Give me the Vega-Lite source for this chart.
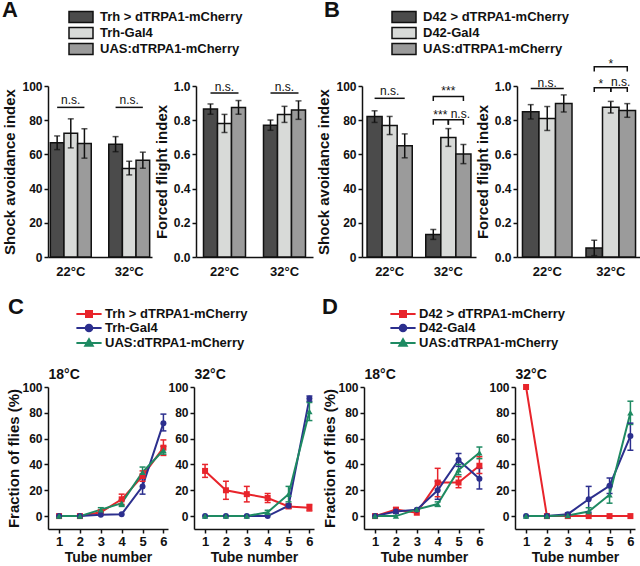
{
"$schema": "https://vega.github.io/schema/vega-lite/v6.json",
"padding": {"left": 2, "top": 10, "right": 0, "bottom": 0},
"background": "white",
"config": {
  "font": "Liberation Sans",
  "view": {"stroke": null},
  "axis": {"labelFont": "Liberation Sans", "titleFont": "Liberation Sans", "labelFontWeight": "bold", "titleFontWeight": "bold", "domainColor": "#111", "tickColor": "#111", "labelColor": "#111", "titleColor": "#111", "domainWidth": 1.5, "tickWidth": 1.5, "tickSize": 4, "labelPadding": 2, "grid": false},
  "legend": {"labelFont": "Liberation Sans", "titleFont": "Liberation Sans", "labelColor": "#111", "titleColor": "#111"},
  "title": {"font": "Liberation Sans", "color": "#111"}
},
"datasets": {
  "bars": [
    {"panel": "A1", "temp": "22°C", "geno": "Trh > dTRPA1-mCherry", "mean": 66.8, "lo": 62.8, "hi": 70.8},
    {"panel": "A1", "temp": "22°C", "geno": "Trh-Gal4", "mean": 72.3, "lo": 63.8, "hi": 80.8},
    {"panel": "A1", "temp": "22°C", "geno": "UAS:dTRPA1-mCherry", "mean": 66.4, "lo": 57.8, "hi": 75.0},
    {"panel": "A1", "temp": "32°C", "geno": "Trh > dTRPA1-mCherry", "mean": 66.0, "lo": 61.6, "hi": 70.4},
    {"panel": "A1", "temp": "32°C", "geno": "Trh-Gal4", "mean": 51.8, "lo": 48.0, "hi": 56.0},
    {"panel": "A1", "temp": "32°C", "geno": "UAS:dTRPA1-mCherry", "mean": 56.6, "lo": 51.9, "hi": 61.3},
    {"panel": "A2", "temp": "22°C", "geno": "Trh > dTRPA1-mCherry", "mean": 0.865, "lo": 0.835, "hi": 0.895},
    {"panel": "A2", "temp": "22°C", "geno": "Trh-Gal4", "mean": 0.781, "lo": 0.728, "hi": 0.834},
    {"panel": "A2", "temp": "22°C", "geno": "UAS:dTRPA1-mCherry", "mean": 0.875, "lo": 0.835, "hi": 0.915},
    {"panel": "A2", "temp": "32°C", "geno": "Trh > dTRPA1-mCherry", "mean": 0.771, "lo": 0.741, "hi": 0.801},
    {"panel": "A2", "temp": "32°C", "geno": "Trh-Gal4", "mean": 0.834, "lo": 0.787, "hi": 0.881},
    {"panel": "A2", "temp": "32°C", "geno": "UAS:dTRPA1-mCherry", "mean": 0.859, "lo": 0.805, "hi": 0.913},
    {"panel": "B1", "temp": "22°C", "geno": "D42 > dTRPA1-mCherry", "mean": 82.1, "lo": 78.7, "hi": 85.5},
    {"panel": "B1", "temp": "22°C", "geno": "D42-Gal4", "mean": 76.9, "lo": 71.6, "hi": 82.2},
    {"panel": "B1", "temp": "22°C", "geno": "UAS:dTRPA1-mCherry", "mean": 65.0, "lo": 58.0, "hi": 72.0},
    {"panel": "B1", "temp": "32°C", "geno": "D42 > dTRPA1-mCherry", "mean": 13.2, "lo": 10.3, "hi": 16.1},
    {"panel": "B1", "temp": "32°C", "geno": "D42-Gal4", "mean": 69.9, "lo": 64.7, "hi": 75.1},
    {"panel": "B1", "temp": "32°C", "geno": "UAS:dTRPA1-mCherry", "mean": 60.2, "lo": 54.6, "hi": 65.8},
    {"panel": "B2", "temp": "22°C", "geno": "D42 > dTRPA1-mCherry", "mean": 0.849, "lo": 0.807, "hi": 0.891},
    {"panel": "B2", "temp": "22°C", "geno": "D42-Gal4", "mean": 0.81, "lo": 0.74, "hi": 0.88},
    {"panel": "B2", "temp": "22°C", "geno": "UAS:dTRPA1-mCherry", "mean": 0.898, "lo": 0.848, "hi": 0.948},
    {"panel": "B2", "temp": "32°C", "geno": "D42 > dTRPA1-mCherry", "mean": 0.053, "lo": 0.008, "hi": 0.098},
    {"panel": "B2", "temp": "32°C", "geno": "D42-Gal4", "mean": 0.876, "lo": 0.842, "hi": 0.91},
    {"panel": "B2", "temp": "32°C", "geno": "UAS:dTRPA1-mCherry", "mean": 0.857, "lo": 0.817, "hi": 0.897}
  ],
  "sig": [
    {"panel": "A1", "id": "a1", "temp": "22°C", "geno": "Trh > dTRPA1-mCherry", "y": 87.5, "ord": 1},
    {"panel": "A1", "id": "a1", "temp": "22°C", "geno": "UAS:dTRPA1-mCherry", "y": 87.5, "ord": 2},
    {"panel": "A1", "id": "a2", "temp": "32°C", "geno": "Trh > dTRPA1-mCherry", "y": 87.5, "ord": 1},
    {"panel": "A1", "id": "a2", "temp": "32°C", "geno": "UAS:dTRPA1-mCherry", "y": 87.5, "ord": 2},
    {"panel": "A2", "id": "a3", "temp": "22°C", "geno": "Trh > dTRPA1-mCherry", "y": 0.959, "ord": 1},
    {"panel": "A2", "id": "a3", "temp": "22°C", "geno": "UAS:dTRPA1-mCherry", "y": 0.959, "ord": 2},
    {"panel": "A2", "id": "a4", "temp": "32°C", "geno": "Trh > dTRPA1-mCherry", "y": 0.959, "ord": 1},
    {"panel": "A2", "id": "a4", "temp": "32°C", "geno": "UAS:dTRPA1-mCherry", "y": 0.959, "ord": 2},
    {"panel": "B1", "id": "b1", "temp": "22°C", "geno": "D42 > dTRPA1-mCherry", "y": 92.8, "ord": 1},
    {"panel": "B1", "id": "b1", "temp": "22°C", "geno": "UAS:dTRPA1-mCherry", "y": 92.8, "ord": 2},
    {"panel": "B1", "id": "b2", "temp": "32°C", "geno": "D42 > dTRPA1-mCherry", "y": 91.3, "ord": 1},
    {"panel": "B1", "id": "b2", "temp": "32°C", "geno": "D42 > dTRPA1-mCherry", "y": 93.8, "ord": 2},
    {"panel": "B1", "id": "b2", "temp": "32°C", "geno": "UAS:dTRPA1-mCherry", "y": 93.8, "ord": 3},
    {"panel": "B1", "id": "b2", "temp": "32°C", "geno": "UAS:dTRPA1-mCherry", "y": 91.3, "ord": 4},
    {"panel": "B1", "id": "b3", "temp": "32°C", "geno": "D42 > dTRPA1-mCherry", "y": 77.3, "ord": 1},
    {"panel": "B1", "id": "b3", "temp": "32°C", "geno": "D42 > dTRPA1-mCherry", "y": 80.2, "ord": 2},
    {"panel": "B1", "id": "b3", "temp": "32°C", "geno": "D42-Gal4", "y": 80.2, "ord": 3},
    {"panel": "B1", "id": "b3", "temp": "32°C", "geno": "D42-Gal4", "y": 77.3, "ord": 4},
    {"panel": "B1", "id": "b4", "temp": "32°C", "geno": "D42-Gal4", "y": 77.3, "ord": 1},
    {"panel": "B1", "id": "b4", "temp": "32°C", "geno": "D42-Gal4", "y": 80.2, "ord": 2},
    {"panel": "B1", "id": "b4", "temp": "32°C", "geno": "UAS:dTRPA1-mCherry", "y": 80.2, "ord": 3},
    {"panel": "B1", "id": "b4", "temp": "32°C", "geno": "UAS:dTRPA1-mCherry", "y": 77.3, "ord": 4},
    {"panel": "B2", "id": "c1", "temp": "22°C", "geno": "D42 > dTRPA1-mCherry", "y": 0.985, "ord": 1},
    {"panel": "B2", "id": "c1", "temp": "22°C", "geno": "UAS:dTRPA1-mCherry", "y": 0.985, "ord": 2},
    {"panel": "B2", "id": "c2", "temp": "32°C", "geno": "D42 > dTRPA1-mCherry", "y": 1.085, "ord": 1},
    {"panel": "B2", "id": "c2", "temp": "32°C", "geno": "D42 > dTRPA1-mCherry", "y": 1.112, "ord": 2},
    {"panel": "B2", "id": "c2", "temp": "32°C", "geno": "UAS:dTRPA1-mCherry", "y": 1.112, "ord": 3},
    {"panel": "B2", "id": "c2", "temp": "32°C", "geno": "UAS:dTRPA1-mCherry", "y": 1.085, "ord": 4},
    {"panel": "B2", "id": "c3", "temp": "32°C", "geno": "D42 > dTRPA1-mCherry", "y": 0.965, "ord": 1},
    {"panel": "B2", "id": "c3", "temp": "32°C", "geno": "D42 > dTRPA1-mCherry", "y": 0.99, "ord": 2},
    {"panel": "B2", "id": "c3", "temp": "32°C", "geno": "D42-Gal4", "y": 0.99, "ord": 3},
    {"panel": "B2", "id": "c3", "temp": "32°C", "geno": "D42-Gal4", "y": 0.965, "ord": 4},
    {"panel": "B2", "id": "c4", "temp": "32°C", "geno": "D42-Gal4", "y": 0.965, "ord": 1},
    {"panel": "B2", "id": "c4", "temp": "32°C", "geno": "D42-Gal4", "y": 0.99, "ord": 2},
    {"panel": "B2", "id": "c4", "temp": "32°C", "geno": "UAS:dTRPA1-mCherry", "y": 0.99, "ord": 3},
    {"panel": "B2", "id": "c4", "temp": "32°C", "geno": "UAS:dTRPA1-mCherry", "y": 0.965, "ord": 4}
  ],
  "sigtext": [
    {"panel": "A1", "temp": "22°C", "geno": "Trh-Gal4", "y": 89.5, "label": "n.s.", "pos": "c"},
    {"panel": "A1", "temp": "32°C", "geno": "Trh-Gal4", "y": 89.5, "label": "n.s.", "pos": "c"},
    {"panel": "A2", "temp": "22°C", "geno": "Trh-Gal4", "y": 0.97, "label": "n.s.", "pos": "c"},
    {"panel": "A2", "temp": "32°C", "geno": "Trh-Gal4", "y": 0.97, "label": "n.s.", "pos": "c"},
    {"panel": "B1", "temp": "22°C", "geno": "D42-Gal4", "y": 94.5, "label": "n.s.", "pos": "c"},
    {"panel": "B1", "temp": "32°C", "geno": "D42-Gal4", "y": 94.5, "label": "***", "pos": "c"},
    {"panel": "B1", "temp": "32°C", "geno": "D42-Gal4", "y": 80.5, "label": "***", "pos": "l"},
    {"panel": "B1", "temp": "32°C", "geno": "D42-Gal4", "y": 81.4, "label": "n.s.", "pos": "r"},
    {"panel": "B2", "temp": "22°C", "geno": "D42-Gal4", "y": 0.995, "label": "n.s.", "pos": "c"},
    {"panel": "B2", "temp": "32°C", "geno": "D42-Gal4", "y": 1.108, "label": "*", "pos": "c"},
    {"panel": "B2", "temp": "32°C", "geno": "D42-Gal4", "y": 0.99, "label": "*", "pos": "l"},
    {"panel": "B2", "temp": "32°C", "geno": "D42-Gal4", "y": 0.998, "label": "n.s.", "pos": "r"}
  ],
  "lines": [
    {"panel": "C", "temp": "18°C", "geno": "Trh > dTRPA1-mCherry", "tube": 1, "mean": 0, "lo": null, "hi": null},
    {"panel": "C", "temp": "18°C", "geno": "Trh > dTRPA1-mCherry", "tube": 2, "mean": 0, "lo": null, "hi": null},
    {"panel": "C", "temp": "18°C", "geno": "Trh > dTRPA1-mCherry", "tube": 3, "mean": 3, "lo": null, "hi": null},
    {"panel": "C", "temp": "18°C", "geno": "Trh > dTRPA1-mCherry", "tube": 4, "mean": 13, "lo": 9, "hi": 17},
    {"panel": "C", "temp": "18°C", "geno": "Trh > dTRPA1-mCherry", "tube": 5, "mean": 31, "lo": 27, "hi": 35},
    {"panel": "C", "temp": "18°C", "geno": "Trh > dTRPA1-mCherry", "tube": 6, "mean": 53, "lo": 47, "hi": 59},
    {"panel": "C", "temp": "18°C", "geno": "Trh-Gal4", "tube": 1, "mean": 0, "lo": null, "hi": null},
    {"panel": "C", "temp": "18°C", "geno": "Trh-Gal4", "tube": 2, "mean": 0, "lo": null, "hi": null},
    {"panel": "C", "temp": "18°C", "geno": "Trh-Gal4", "tube": 3, "mean": 1, "lo": null, "hi": null},
    {"panel": "C", "temp": "18°C", "geno": "Trh-Gal4", "tube": 4, "mean": 1.5, "lo": null, "hi": null},
    {"panel": "C", "temp": "18°C", "geno": "Trh-Gal4", "tube": 5, "mean": 23, "lo": 17, "hi": 29},
    {"panel": "C", "temp": "18°C", "geno": "Trh-Gal4", "tube": 6, "mean": 72, "lo": 66, "hi": 79},
    {"panel": "C", "temp": "18°C", "geno": "UAS:dTRPA1-mCherry", "tube": 1, "mean": 0, "lo": null, "hi": null},
    {"panel": "C", "temp": "18°C", "geno": "UAS:dTRPA1-mCherry", "tube": 2, "mean": 0, "lo": null, "hi": null},
    {"panel": "C", "temp": "18°C", "geno": "UAS:dTRPA1-mCherry", "tube": 3, "mean": 5, "lo": 3.5, "hi": 6.5},
    {"panel": "C", "temp": "18°C", "geno": "UAS:dTRPA1-mCherry", "tube": 4, "mean": 10, "lo": 7.5, "hi": 12.5},
    {"panel": "C", "temp": "18°C", "geno": "UAS:dTRPA1-mCherry", "tube": 5, "mean": 34, "lo": 30, "hi": 38},
    {"panel": "C", "temp": "18°C", "geno": "UAS:dTRPA1-mCherry", "tube": 6, "mean": 51, "lo": 48, "hi": 54},
    {"panel": "C", "temp": "32°C", "geno": "Trh > dTRPA1-mCherry", "tube": 1, "mean": 35, "lo": 30, "hi": 40},
    {"panel": "C", "temp": "32°C", "geno": "Trh > dTRPA1-mCherry", "tube": 2, "mean": 20, "lo": 13, "hi": 27},
    {"panel": "C", "temp": "32°C", "geno": "Trh > dTRPA1-mCherry", "tube": 3, "mean": 17, "lo": 11, "hi": 23},
    {"panel": "C", "temp": "32°C", "geno": "Trh > dTRPA1-mCherry", "tube": 4, "mean": 14, "lo": 10.5, "hi": 17.5},
    {"panel": "C", "temp": "32°C", "geno": "Trh > dTRPA1-mCherry", "tube": 5, "mean": 7.5, "lo": 6, "hi": 9},
    {"panel": "C", "temp": "32°C", "geno": "Trh > dTRPA1-mCherry", "tube": 6, "mean": 6.5, "lo": 4, "hi": 9},
    {"panel": "C", "temp": "32°C", "geno": "Trh-Gal4", "tube": 1, "mean": 0, "lo": null, "hi": null},
    {"panel": "C", "temp": "32°C", "geno": "Trh-Gal4", "tube": 2, "mean": 0, "lo": null, "hi": null},
    {"panel": "C", "temp": "32°C", "geno": "Trh-Gal4", "tube": 3, "mean": 0, "lo": null, "hi": null},
    {"panel": "C", "temp": "32°C", "geno": "Trh-Gal4", "tube": 4, "mean": 0, "lo": null, "hi": null},
    {"panel": "C", "temp": "32°C", "geno": "Trh-Gal4", "tube": 5, "mean": 8, "lo": 6.5, "hi": 9.5},
    {"panel": "C", "temp": "32°C", "geno": "Trh-Gal4", "tube": 6, "mean": 91, "lo": 89, "hi": 93},
    {"panel": "C", "temp": "32°C", "geno": "UAS:dTRPA1-mCherry", "tube": 1, "mean": 0, "lo": null, "hi": null},
    {"panel": "C", "temp": "32°C", "geno": "UAS:dTRPA1-mCherry", "tube": 2, "mean": 0, "lo": null, "hi": null},
    {"panel": "C", "temp": "32°C", "geno": "UAS:dTRPA1-mCherry", "tube": 3, "mean": 0, "lo": null, "hi": null},
    {"panel": "C", "temp": "32°C", "geno": "UAS:dTRPA1-mCherry", "tube": 4, "mean": 3, "lo": 1.5, "hi": 4.5},
    {"panel": "C", "temp": "32°C", "geno": "UAS:dTRPA1-mCherry", "tube": 5, "mean": 17, "lo": 11, "hi": 23},
    {"panel": "C", "temp": "32°C", "geno": "UAS:dTRPA1-mCherry", "tube": 6, "mean": 81, "lo": 74, "hi": 88},
    {"panel": "D", "temp": "18°C", "geno": "D42 > dTRPA1-mCherry", "tube": 1, "mean": 0, "lo": null, "hi": null},
    {"panel": "D", "temp": "18°C", "geno": "D42 > dTRPA1-mCherry", "tube": 2, "mean": 5, "lo": 3.5, "hi": 6.5},
    {"panel": "D", "temp": "18°C", "geno": "D42 > dTRPA1-mCherry", "tube": 3, "mean": 2.6, "lo": null, "hi": null},
    {"panel": "D", "temp": "18°C", "geno": "D42 > dTRPA1-mCherry", "tube": 4, "mean": 26, "lo": 15, "hi": 37},
    {"panel": "D", "temp": "18°C", "geno": "D42 > dTRPA1-mCherry", "tube": 5, "mean": 26, "lo": 22, "hi": 30.5},
    {"panel": "D", "temp": "18°C", "geno": "D42 > dTRPA1-mCherry", "tube": 6, "mean": 39, "lo": 33, "hi": 46},
    {"panel": "D", "temp": "18°C", "geno": "D42-Gal4", "tube": 1, "mean": 0, "lo": null, "hi": null},
    {"panel": "D", "temp": "18°C", "geno": "D42-Gal4", "tube": 2, "mean": 3.5, "lo": 2, "hi": 5},
    {"panel": "D", "temp": "18°C", "geno": "D42-Gal4", "tube": 3, "mean": 5, "lo": null, "hi": null},
    {"panel": "D", "temp": "18°C", "geno": "D42-Gal4", "tube": 4, "mean": 20, "lo": 13, "hi": 27},
    {"panel": "D", "temp": "18°C", "geno": "D42-Gal4", "tube": 5, "mean": 43.5, "lo": 38.5, "hi": 48.5},
    {"panel": "D", "temp": "18°C", "geno": "D42-Gal4", "tube": 6, "mean": 29, "lo": 21, "hi": 37},
    {"panel": "D", "temp": "18°C", "geno": "UAS:dTRPA1-mCherry", "tube": 1, "mean": 0, "lo": null, "hi": null},
    {"panel": "D", "temp": "18°C", "geno": "UAS:dTRPA1-mCherry", "tube": 2, "mean": 0, "lo": null, "hi": null},
    {"panel": "D", "temp": "18°C", "geno": "UAS:dTRPA1-mCherry", "tube": 3, "mean": 5.2, "lo": null, "hi": null},
    {"panel": "D", "temp": "18°C", "geno": "UAS:dTRPA1-mCherry", "tube": 4, "mean": 9.3, "lo": 7.5, "hi": 11},
    {"panel": "D", "temp": "18°C", "geno": "UAS:dTRPA1-mCherry", "tube": 5, "mean": 35.8, "lo": 32, "hi": 40},
    {"panel": "D", "temp": "18°C", "geno": "UAS:dTRPA1-mCherry", "tube": 6, "mean": 49, "lo": 44.5, "hi": 53.5},
    {"panel": "D", "temp": "32°C", "geno": "D42 > dTRPA1-mCherry", "tube": 1, "mean": 100, "lo": null, "hi": null},
    {"panel": "D", "temp": "32°C", "geno": "D42 > dTRPA1-mCherry", "tube": 2, "mean": 0, "lo": null, "hi": null},
    {"panel": "D", "temp": "32°C", "geno": "D42 > dTRPA1-mCherry", "tube": 3, "mean": 0, "lo": null, "hi": null},
    {"panel": "D", "temp": "32°C", "geno": "D42 > dTRPA1-mCherry", "tube": 4, "mean": 0, "lo": null, "hi": null},
    {"panel": "D", "temp": "32°C", "geno": "D42 > dTRPA1-mCherry", "tube": 5, "mean": 0, "lo": null, "hi": null},
    {"panel": "D", "temp": "32°C", "geno": "D42 > dTRPA1-mCherry", "tube": 6, "mean": 0, "lo": null, "hi": null},
    {"panel": "D", "temp": "32°C", "geno": "D42-Gal4", "tube": 1, "mean": 0, "lo": null, "hi": null},
    {"panel": "D", "temp": "32°C", "geno": "D42-Gal4", "tube": 2, "mean": 0, "lo": null, "hi": null},
    {"panel": "D", "temp": "32°C", "geno": "D42-Gal4", "tube": 3, "mean": 1.5, "lo": 0.5, "hi": 2.5},
    {"panel": "D", "temp": "32°C", "geno": "D42-Gal4", "tube": 4, "mean": 13, "lo": 3, "hi": 23},
    {"panel": "D", "temp": "32°C", "geno": "D42-Gal4", "tube": 5, "mean": 23.5, "lo": 17.5, "hi": 29.5},
    {"panel": "D", "temp": "32°C", "geno": "D42-Gal4", "tube": 6, "mean": 62, "lo": 51, "hi": 72},
    {"panel": "D", "temp": "32°C", "geno": "UAS:dTRPA1-mCherry", "tube": 1, "mean": 0, "lo": null, "hi": null},
    {"panel": "D", "temp": "32°C", "geno": "UAS:dTRPA1-mCherry", "tube": 2, "mean": 0, "lo": null, "hi": null},
    {"panel": "D", "temp": "32°C", "geno": "UAS:dTRPA1-mCherry", "tube": 3, "mean": 0.5, "lo": null, "hi": null},
    {"panel": "D", "temp": "32°C", "geno": "UAS:dTRPA1-mCherry", "tube": 4, "mean": 3.5, "lo": 0.5, "hi": 6.5},
    {"panel": "D", "temp": "32°C", "geno": "UAS:dTRPA1-mCherry", "tube": 5, "mean": 16.5, "lo": 10, "hi": 23},
    {"panel": "D", "temp": "32°C", "geno": "UAS:dTRPA1-mCherry", "tube": 6, "mean": 80, "lo": 71, "hi": 89}
  ]
},
"spacing": 29,
"resolve": {"scale": {"color": "independent", "shape": "independent", "x": "independent", "y": "independent"}, "legend": {"color": "independent", "shape": "independent"}},
"vconcat": [
 {
  "spacing": 3,
  "resolve": {"scale": {"color": "independent", "x": "independent", "y": "independent"}, "legend": {"color": "independent"}},
  "hconcat": [
   {
    "spacing": 44, "bounds": "flush",
    "resolve": {"scale": {"color": "independent", "x": "independent", "y": "independent", "xOffset": "independent"}, "legend": {"color": "independent"}},
    "hconcat": [
     {
      "width": 104, "height": 171,
      "data": {"name": "bars"},
      "transform": [{"filter": "datum.panel === 'A1'"}],
      "resolve": {"axis": {"y": "independent"}},
      "encoding": {
        "x": {"field": "temp", "type": "nominal", "sort": ["22°C", "32°C"], "title": null, "scale": {"paddingInner": 0.3, "paddingOuter": 0.04}, "axis": {"labelAngle": 0, "ticks": false, "labelPadding": 8, "labelFontSize": 13}},
        "xOffset": {"field": "geno", "type": "nominal", "sort": ["Trh > dTRPA1-mCherry", "Trh-Gal4", "UAS:dTRPA1-mCherry"], "scale": {"paddingInner": 0, "paddingOuter": 0}}
      },
      "layer": [
        {"mark": {"type": "bar", "stroke": "#111", "strokeWidth": 1.5},
         "encoding": {
           "y": {"field": "mean", "type": "quantitative", "scale": {"domain": [0, 100], "nice": false}, "axis": {"values": [0, 20, 40, 60, 80, 100], "title": "Shock avoidance index", "titleFontSize": 15, "titlePadding": 4, "labelFontSize": 12}},
           "color": {"field": "geno", "type": "nominal", "scale": {"domain": ["Trh > dTRPA1-mCherry", "Trh-Gal4", "UAS:dTRPA1-mCherry"], "range": ["#4b4b4b", "#d8dad8", "#9b9b9b"]},
             "legend": {"orient": "none", "legendX": -46, "legendY": -76, "title": "A", "titleOrient": "left", "titleAnchor": "start", "titleBaseline": "middle", "titleFontSize": 22, "titleFontWeight": "bold", "titlePadding": 56, "symbolType": "M-2,-0.9H2V0.9H-2Z", "symbolSize": 144, "symbolStrokeColor": "#111", "symbolStrokeWidth": 1.5, "labelFontSize": 13, "labelFontWeight": "bold", "labelOffset": 12, "rowPadding": -2, "padding": 0}}
         }},
        {"mark": {"type": "rule", "color": "#111", "strokeWidth": 1.5}, "encoding": {"y": {"field": "lo", "type": "quantitative", "scale": {"domain": [0, 100], "nice": false}, "axis": null}, "y2": {"field": "hi"}}},
        {"mark": {"type": "tick", "orient": "horizontal", "color": "#111", "size": 6, "thickness": 1.5}, "encoding": {"y": {"field": "lo", "type": "quantitative", "scale": {"domain": [0, 100], "nice": false}, "axis": null}}},
        {"mark": {"type": "tick", "orient": "horizontal", "color": "#111", "size": 6, "thickness": 1.5}, "encoding": {"y": {"field": "hi", "type": "quantitative", "scale": {"domain": [0, 100], "nice": false}, "axis": null}}},
        {"data": {"name": "sig"}, "transform": [{"filter": "datum.panel === 'A1'"}], "mark": {"type": "line", "color": "#111", "strokeWidth": 1.5}, "encoding": {"y": {"field": "y", "type": "quantitative", "scale": {"domain": [0, 100], "nice": false}, "axis": null}, "detail": {"field": "id"}, "order": {"field": "ord"}}},
        {"data": {"name": "sigtext"}, "transform": [{"filter": "datum.panel === 'A1'"}], "mark": {"type": "text", "fontSize": 12, "baseline": "alphabetic", "color": "#111"}, "encoding": {"y": {"field": "y", "type": "quantitative", "scale": {"domain": [0, 100], "nice": false}, "axis": null}, "text": {"field": "label"}}}
      ]
     },
     {
      "width": 117, "height": 171,
      "data": {"name": "bars"},
      "transform": [{"filter": "datum.panel === 'A2'"}],
      "resolve": {"axis": {"y": "independent"}},
      "encoding": {
        "x": {"field": "temp", "type": "nominal", "sort": ["22°C", "32°C"], "title": null, "scale": {"paddingInner": 0.3, "paddingOuter": 0.125}, "axis": {"labelAngle": 0, "ticks": false, "labelPadding": 8, "labelFontSize": 13}},
        "xOffset": {"field": "geno", "type": "nominal", "sort": ["Trh > dTRPA1-mCherry", "Trh-Gal4", "UAS:dTRPA1-mCherry"], "scale": {"paddingInner": 0, "paddingOuter": 0}}
      },
      "layer": [
        {"mark": {"type": "bar", "stroke": "#111", "strokeWidth": 1.5},
         "encoding": {
           "y": {"field": "mean", "type": "quantitative", "scale": {"domain": [0, 1], "nice": false}, "axis": {"values": [0, 0.2, 0.4, 0.6, 0.8, 1.0], "format": ".1f", "title": "Forced flight index", "titleFontSize": 15, "titlePadding": 4, "labelFontSize": 12}},
           "color": {"field": "geno", "type": "nominal", "scale": {"domain": ["Trh > dTRPA1-mCherry", "Trh-Gal4", "UAS:dTRPA1-mCherry"], "range": ["#4b4b4b", "#d8dad8", "#9b9b9b"]}, "legend": null}
         }},
        {"mark": {"type": "rule", "color": "#111", "strokeWidth": 1.5}, "encoding": {"y": {"field": "lo", "type": "quantitative", "scale": {"domain": [0, 1], "nice": false}, "axis": null}, "y2": {"field": "hi"}}},
        {"mark": {"type": "tick", "orient": "horizontal", "color": "#111", "size": 6, "thickness": 1.5}, "encoding": {"y": {"field": "lo", "type": "quantitative", "scale": {"domain": [0, 1], "nice": false}, "axis": null}}},
        {"mark": {"type": "tick", "orient": "horizontal", "color": "#111", "size": 6, "thickness": 1.5}, "encoding": {"y": {"field": "hi", "type": "quantitative", "scale": {"domain": [0, 1], "nice": false}, "axis": null}}},
        {"data": {"name": "sig"}, "transform": [{"filter": "datum.panel === 'A2'"}], "mark": {"type": "line", "color": "#111", "strokeWidth": 1.5}, "encoding": {"y": {"field": "y", "type": "quantitative", "scale": {"domain": [0, 1], "nice": false}, "axis": null}, "detail": {"field": "id"}, "order": {"field": "ord"}}},
        {"data": {"name": "sigtext"}, "transform": [{"filter": "datum.panel === 'A2'"}], "mark": {"type": "text", "fontSize": 12, "baseline": "alphabetic", "color": "#111"}, "encoding": {"y": {"field": "y", "type": "quantitative", "scale": {"domain": [0, 1], "nice": false}, "axis": null}, "text": {"field": "label"}}}
      ]
     }
    ]
   },
   {
    "spacing": 41, "bounds": "flush",
    "resolve": {"scale": {"color": "independent", "x": "independent", "y": "independent", "xOffset": "independent"}, "legend": {"color": "independent"}},
    "hconcat": [
     {
      "width": 114, "height": 171,
      "data": {"name": "bars"},
      "transform": [{"filter": "datum.panel === 'B1'"}],
      "resolve": {"axis": {"y": "independent"}},
      "encoding": {
        "x": {"field": "temp", "type": "nominal", "sort": ["22°C", "32°C"], "title": null, "scale": {"paddingInner": 0.23, "paddingOuter": 0.086}, "axis": {"labelAngle": 0, "ticks": false, "labelPadding": 8, "labelFontSize": 13}},
        "xOffset": {"field": "geno", "type": "nominal", "sort": ["D42 > dTRPA1-mCherry", "D42-Gal4", "UAS:dTRPA1-mCherry"], "scale": {"paddingInner": 0, "paddingOuter": 0}}
      },
      "layer": [
        {"mark": {"type": "bar", "stroke": "#111", "strokeWidth": 1.5},
         "encoding": {
           "y": {"field": "mean", "type": "quantitative", "scale": {"domain": [0, 100], "nice": false}, "axis": {"values": [0, 20, 40, 60, 80, 100], "title": "Shock avoidance index", "titleFontSize": 15, "titlePadding": 4, "labelFontSize": 12}},
           "color": {"field": "geno", "type": "nominal", "scale": {"domain": ["D42 > dTRPA1-mCherry", "D42-Gal4", "UAS:dTRPA1-mCherry"], "range": ["#4b4b4b", "#d8dad8", "#9b9b9b"]},
             "legend": {"orient": "none", "legendX": -38, "legendY": -76, "title": "B", "titleOrient": "left", "titleAnchor": "start", "titleBaseline": "middle", "titleFontSize": 22, "titleFontWeight": "bold", "titlePadding": 57, "symbolType": "M-2,-0.9H2V0.9H-2Z", "symbolSize": 144, "symbolStrokeColor": "#111", "symbolStrokeWidth": 1.5, "labelFontSize": 13, "labelFontWeight": "bold", "labelOffset": 12, "rowPadding": -2, "padding": 0}}
         }},
        {"mark": {"type": "rule", "color": "#111", "strokeWidth": 1.5}, "encoding": {"y": {"field": "lo", "type": "quantitative", "scale": {"domain": [0, 100], "nice": false}, "axis": null}, "y2": {"field": "hi"}}},
        {"mark": {"type": "tick", "orient": "horizontal", "color": "#111", "size": 6, "thickness": 1.5}, "encoding": {"y": {"field": "lo", "type": "quantitative", "scale": {"domain": [0, 100], "nice": false}, "axis": null}}},
        {"mark": {"type": "tick", "orient": "horizontal", "color": "#111", "size": 6, "thickness": 1.5}, "encoding": {"y": {"field": "hi", "type": "quantitative", "scale": {"domain": [0, 100], "nice": false}, "axis": null}}},
        {"data": {"name": "sig"}, "transform": [{"filter": "datum.panel === 'B1'"}], "mark": {"type": "line", "color": "#111", "strokeWidth": 1.5}, "encoding": {"y": {"field": "y", "type": "quantitative", "scale": {"domain": [0, 100], "nice": false}, "axis": null}, "detail": {"field": "id"}, "order": {"field": "ord"}}},
        {"data": {"name": "sigtext"}, "transform": [{"filter": "datum.panel === 'B1' && datum.pos === 'c'"}], "mark": {"type": "text", "fontSize": 12, "baseline": "alphabetic", "color": "#111"}, "encoding": {"y": {"field": "y", "type": "quantitative", "scale": {"domain": [0, 100], "nice": false}, "axis": null}, "text": {"field": "label"}}},
        {"data": {"name": "sigtext"}, "transform": [{"filter": "datum.panel === 'B1' && datum.pos === 'l'"}], "mark": {"type": "text", "fontSize": 12, "baseline": "alphabetic", "color": "#111", "dx": -8}, "encoding": {"y": {"field": "y", "type": "quantitative", "scale": {"domain": [0, 100], "nice": false}, "axis": null}, "text": {"field": "label"}}},
        {"data": {"name": "sigtext"}, "transform": [{"filter": "datum.panel === 'B1' && datum.pos === 'r'"}], "mark": {"type": "text", "fontSize": 12, "baseline": "alphabetic", "color": "#111", "dx": 12}, "encoding": {"y": {"field": "y", "type": "quantitative", "scale": {"domain": [0, 100], "nice": false}, "axis": null}, "text": {"field": "label"}}}
      ]
     },
     {
      "width": 124, "height": 171,
      "data": {"name": "bars"},
      "transform": [{"filter": "datum.panel === 'B2'"}],
      "resolve": {"axis": {"y": "independent"}},
      "encoding": {
        "x": {"field": "temp", "type": "nominal", "sort": ["22°C", "32°C"], "title": null, "scale": {"paddingInner": 0.22, "paddingOuter": 0.086}, "axis": {"labelAngle": 0, "ticks": false, "labelPadding": 8, "labelFontSize": 13}},
        "xOffset": {"field": "geno", "type": "nominal", "sort": ["D42 > dTRPA1-mCherry", "D42-Gal4", "UAS:dTRPA1-mCherry"], "scale": {"paddingInner": 0, "paddingOuter": 0}}
      },
      "layer": [
        {"mark": {"type": "bar", "stroke": "#111", "strokeWidth": 1.5},
         "encoding": {
           "y": {"field": "mean", "type": "quantitative", "scale": {"domain": [0, 1], "nice": false}, "axis": {"values": [0, 0.2, 0.4, 0.6, 0.8, 1.0], "format": ".1f", "title": "Forced flight index", "titleFontSize": 15, "titlePadding": 4, "labelFontSize": 12}},
           "color": {"field": "geno", "type": "nominal", "scale": {"domain": ["D42 > dTRPA1-mCherry", "D42-Gal4", "UAS:dTRPA1-mCherry"], "range": ["#4b4b4b", "#d8dad8", "#9b9b9b"]}, "legend": null}
         }},
        {"mark": {"type": "rule", "color": "#111", "strokeWidth": 1.5}, "encoding": {"y": {"field": "lo", "type": "quantitative", "scale": {"domain": [0, 1], "nice": false}, "axis": null}, "y2": {"field": "hi"}}},
        {"mark": {"type": "tick", "orient": "horizontal", "color": "#111", "size": 6, "thickness": 1.5}, "encoding": {"y": {"field": "lo", "type": "quantitative", "scale": {"domain": [0, 1], "nice": false}, "axis": null}}},
        {"mark": {"type": "tick", "orient": "horizontal", "color": "#111", "size": 6, "thickness": 1.5}, "encoding": {"y": {"field": "hi", "type": "quantitative", "scale": {"domain": [0, 1], "nice": false}, "axis": null}}},
        {"data": {"name": "sig"}, "transform": [{"filter": "datum.panel === 'B2'"}], "mark": {"type": "line", "color": "#111", "strokeWidth": 1.5}, "encoding": {"y": {"field": "y", "type": "quantitative", "scale": {"domain": [0, 1], "nice": false}, "axis": null}, "detail": {"field": "id"}, "order": {"field": "ord"}}},
        {"data": {"name": "sigtext"}, "transform": [{"filter": "datum.panel === 'B2' && datum.pos === 'c'"}], "mark": {"type": "text", "fontSize": 12, "baseline": "alphabetic", "color": "#111"}, "encoding": {"y": {"field": "y", "type": "quantitative", "scale": {"domain": [0, 1], "nice": false}, "axis": null}, "text": {"field": "label"}}},
        {"data": {"name": "sigtext"}, "transform": [{"filter": "datum.panel === 'B2' && datum.pos === 'l'"}], "mark": {"type": "text", "fontSize": 12, "baseline": "alphabetic", "color": "#111", "dx": -10}, "encoding": {"y": {"field": "y", "type": "quantitative", "scale": {"domain": [0, 1], "nice": false}, "axis": null}, "text": {"field": "label"}}},
        {"data": {"name": "sigtext"}, "transform": [{"filter": "datum.panel === 'B2' && datum.pos === 'r'"}], "mark": {"type": "text", "fontSize": 12, "baseline": "alphabetic", "color": "#111", "dx": 10}, "encoding": {"y": {"field": "y", "type": "quantitative", "scale": {"domain": [0, 1], "nice": false}, "axis": null}, "text": {"field": "label"}}}
      ]
     }
    ]
   }
  ]
 },
 {
  "spacing": 8,
  "resolve": {"scale": {"color": "independent", "shape": "independent", "x": "independent", "y": "independent"}, "legend": {"color": "independent", "shape": "independent"}},
  "hconcat": [
   {
    "spacing": 26, "bounds": "flush",
    "resolve": {"scale": {"color": "independent", "shape": "independent", "x": "independent", "y": "independent"}, "legend": {"color": "independent", "shape": "independent"}},
    "hconcat": [
     {
      "width": 120, "height": 142,
      "data": {"name": "lines"},
      "transform": [{"filter": "datum.panel === 'C' && datum.temp === '18°C'"}],
      "resolve": {"axis": {"x": "independent", "y": "independent"}},
      "encoding": {
        "x": {"field": "tube", "type": "quantitative", "scale": {"domain": [0.47, 6.22], "nice": false, "zero": false}, "axis": null}
      },
      "layer": [
        {"mark": {"type": "line", "strokeWidth": 2}, "encoding": {
          "x": {"field": "tube", "type": "quantitative", "scale": {"domain": [0.47, 6.22], "nice": false, "zero": false}, "axis": {"values": [1, 2, 3, 4, 5, 6], "title": "Tube number", "titleFontSize": 14, "titlePadding": 2, "labelFontSize": 13}},
          "y": {"field": "mean", "type": "quantitative", "scale": {"domain": [-10, 100], "nice": false, "zero": false}, "axis": {"values": [0, 20, 40, 60, 80, 100], "title": "Fraction of flies (%)", "titleFontSize": 15, "titlePadding": 0, "labelFontSize": 12}},
          "color": {"field": "geno", "type": "nominal", "scale": {"domain": ["Trh > dTRPA1-mCherry", "Trh-Gal4", "UAS:dTRPA1-mCherry"], "range": ["#e8242b", "#2c2f8e", "#1e8a62"]}}}},
        {"mark": {"type": "rule", "strokeWidth": 1.5}, "encoding": {"y": {"field": "lo", "type": "quantitative", "scale": {"domain": [-10, 100], "nice": false, "zero": false}, "axis": null}, "y2": {"field": "hi"}, "color": {"field": "geno", "type": "nominal"}}},
        {"mark": {"type": "tick", "orient": "horizontal", "size": 6, "thickness": 1.5, "opacity": 1}, "encoding": {"y": {"field": "lo", "type": "quantitative", "scale": {"domain": [-10, 100], "nice": false, "zero": false}, "axis": null}, "color": {"field": "geno", "type": "nominal"}}},
        {"mark": {"type": "tick", "orient": "horizontal", "size": 6, "thickness": 1.5, "opacity": 1}, "encoding": {"y": {"field": "hi", "type": "quantitative", "scale": {"domain": [-10, 100], "nice": false, "zero": false}, "axis": null}, "color": {"field": "geno", "type": "nominal"}}},
        {"transform": [{"filter": "indexof(datum.geno, '>') >= 0"}], "mark": {"type": "point", "shape": "square", "filled": true, "size": 36, "opacity": 1}, "encoding": {
          "x": {"field": "tube", "type": "quantitative", "scale": {"domain": [0.47, 6.22], "nice": false, "zero": false}, "axis": {"orient": "top", "title": "18°C", "titleAnchor": "start", "titleAlign": "left", "titleFontSize": 14, "titlePadding": 6, "domain": false, "ticks": false, "labels": false}},
          "y": {"field": "mean", "type": "quantitative", "scale": {"domain": [-10, 100], "nice": false, "zero": false}, "axis": null},
          "color": {"field": "geno", "type": "nominal"}}},
        {"transform": [{"filter": "indexof(datum.geno, 'Gal4') >= 0"}], "mark": {"type": "point", "shape": "circle", "filled": true, "size": 36, "opacity": 1}, "encoding": {
          "y": {"field": "mean", "type": "quantitative", "scale": {"domain": [-10, 100], "nice": false, "zero": false}, "axis": null},
          "color": {"field": "geno", "type": "nominal"}}},
        {"transform": [{"filter": "indexof(datum.geno, 'UAS') >= 0"}], "mark": {"type": "point", "shape": "triangle-up", "filled": true, "size": 40, "opacity": 1}, "encoding": {
          "y": {"field": "mean", "type": "quantitative", "scale": {"domain": [-10, 100], "nice": false, "zero": false}, "axis": null},
          "color": {"field": "geno", "type": "nominal"}}},
        {"mark": {"type": "point", "filled": true, "size": 144, "strokeWidth": 2, "opacity": 0}, "encoding": {
          "y": {"field": "mean", "type": "quantitative", "scale": {"domain": [-10, 100], "nice": false, "zero": false}, "axis": null},
          "color": {"field": "geno", "type": "nominal",
            "legend": {"orient": "none", "legendX": -40, "legendY": -80, "title": ["C", " "], "titleOrient": "left", "titleAnchor": "start", "titleBaseline": "middle", "titleLineHeight": 20, "titleFontSize": 22, "titleFontWeight": "bold", "titlePadding": 58, "symbolSize": 144, "symbolStrokeWidth": 2, "symbolOpacity": 1, "labelFontSize": 13, "labelFontWeight": "bold", "labelOffset": 9, "rowPadding": -2, "padding": 0}},
          "shape": {"field": "geno", "type": "nominal", "scale": {"domain": ["Trh > dTRPA1-mCherry", "Trh-Gal4", "UAS:dTRPA1-mCherry"], "range": ["M-2.1,0H2.1M-0.5,-0.5H0.5V0.5H-0.5Z", "M-2.1,0H2.1M0.55,0A0.55,0.55,0,1,1,-0.55,0A0.55,0.55,0,1,1,0.55,0Z", "M-2.1,0H2.1M0,-0.62L0.62,0.45H-0.62Z"]}}}}
      ]
     },
     {
      "width": 120, "height": 142,
      "data": {"name": "lines"},
      "transform": [{"filter": "datum.panel === 'C' && datum.temp === '32°C'"}],
      "resolve": {"axis": {"x": "independent", "y": "independent"}},
      "encoding": {
        "x": {"field": "tube", "type": "quantitative", "scale": {"domain": [0.47, 6.22], "nice": false, "zero": false}, "axis": null}
      },
      "layer": [
        {"mark": {"type": "line", "strokeWidth": 2}, "encoding": {
          "x": {"field": "tube", "type": "quantitative", "scale": {"domain": [0.47, 6.22], "nice": false, "zero": false}, "axis": {"values": [1, 2, 3, 4, 5, 6], "title": "Tube number", "titleFontSize": 14, "titlePadding": 2, "labelFontSize": 13}},
          "y": {"field": "mean", "type": "quantitative", "scale": {"domain": [-10, 100], "nice": false, "zero": false}, "axis": {"values": [0, 20, 40, 60, 80, 100], "title": null, "labelFontSize": 12}},
          "color": {"field": "geno", "type": "nominal", "scale": {"domain": ["Trh > dTRPA1-mCherry", "Trh-Gal4", "UAS:dTRPA1-mCherry"], "range": ["#e8242b", "#2c2f8e", "#1e8a62"]}, "legend": null}}},
        {"mark": {"type": "rule", "strokeWidth": 1.5}, "encoding": {"y": {"field": "lo", "type": "quantitative", "scale": {"domain": [-10, 100], "nice": false, "zero": false}, "axis": null}, "y2": {"field": "hi"}, "color": {"field": "geno", "type": "nominal", "legend": null}}},
        {"mark": {"type": "tick", "orient": "horizontal", "size": 6, "thickness": 1.5, "opacity": 1}, "encoding": {"y": {"field": "lo", "type": "quantitative", "scale": {"domain": [-10, 100], "nice": false, "zero": false}, "axis": null}, "color": {"field": "geno", "type": "nominal", "legend": null}}},
        {"mark": {"type": "tick", "orient": "horizontal", "size": 6, "thickness": 1.5, "opacity": 1}, "encoding": {"y": {"field": "hi", "type": "quantitative", "scale": {"domain": [-10, 100], "nice": false, "zero": false}, "axis": null}, "color": {"field": "geno", "type": "nominal", "legend": null}}},
        {"transform": [{"filter": "indexof(datum.geno, '>') >= 0"}], "mark": {"type": "point", "shape": "square", "filled": true, "size": 36, "opacity": 1}, "encoding": {
          "x": {"field": "tube", "type": "quantitative", "scale": {"domain": [0.47, 6.22], "nice": false, "zero": false}, "axis": {"orient": "top", "title": "32°C", "titleAnchor": "start", "titleAlign": "left", "titleFontSize": 14, "titlePadding": 6, "domain": false, "ticks": false, "labels": false}},
          "y": {"field": "mean", "type": "quantitative", "scale": {"domain": [-10, 100], "nice": false, "zero": false}, "axis": null},
          "color": {"field": "geno", "type": "nominal", "legend": null}}},
        {"transform": [{"filter": "indexof(datum.geno, 'Gal4') >= 0"}], "mark": {"type": "point", "shape": "circle", "filled": true, "size": 36, "opacity": 1}, "encoding": {
          "y": {"field": "mean", "type": "quantitative", "scale": {"domain": [-10, 100], "nice": false, "zero": false}, "axis": null},
          "color": {"field": "geno", "type": "nominal", "legend": null}}},
        {"transform": [{"filter": "indexof(datum.geno, 'UAS') >= 0"}], "mark": {"type": "point", "shape": "triangle-up", "filled": true, "size": 40, "opacity": 1}, "encoding": {
          "y": {"field": "mean", "type": "quantitative", "scale": {"domain": [-10, 100], "nice": false, "zero": false}, "axis": null},
          "color": {"field": "geno", "type": "nominal", "legend": null}}}
      ]
     }
    ]
   },
   {
    "spacing": 31, "bounds": "flush",
    "resolve": {"scale": {"color": "independent", "shape": "independent", "x": "independent", "y": "independent"}, "legend": {"color": "independent", "shape": "independent"}},
    "hconcat": [
     {
      "width": 120, "height": 142,
      "data": {"name": "lines"},
      "transform": [{"filter": "datum.panel === 'D' && datum.temp === '18°C'"}],
      "resolve": {"axis": {"x": "independent", "y": "independent"}},
      "encoding": {
        "x": {"field": "tube", "type": "quantitative", "scale": {"domain": [0.47, 6.22], "nice": false, "zero": false}, "axis": null}
      },
      "layer": [
        {"mark": {"type": "line", "strokeWidth": 2}, "encoding": {
          "x": {"field": "tube", "type": "quantitative", "scale": {"domain": [0.47, 6.22], "nice": false, "zero": false}, "axis": {"values": [1, 2, 3, 4, 5, 6], "title": "Tube number", "titleFontSize": 14, "titlePadding": 2, "labelFontSize": 13}},
          "y": {"field": "mean", "type": "quantitative", "scale": {"domain": [-10, 100], "nice": false, "zero": false}, "axis": {"values": [0, 20, 40, 60, 80, 100], "title": "Fraction of flies (%)", "titleFontSize": 15, "titlePadding": 0, "labelFontSize": 12}},
          "color": {"field": "geno", "type": "nominal", "scale": {"domain": ["D42 > dTRPA1-mCherry", "D42-Gal4", "UAS:dTRPA1-mCherry"], "range": ["#e8242b", "#2c2f8e", "#1e8a62"]}}}},
        {"mark": {"type": "rule", "strokeWidth": 1.5}, "encoding": {"y": {"field": "lo", "type": "quantitative", "scale": {"domain": [-10, 100], "nice": false, "zero": false}, "axis": null}, "y2": {"field": "hi"}, "color": {"field": "geno", "type": "nominal"}}},
        {"mark": {"type": "tick", "orient": "horizontal", "size": 6, "thickness": 1.5, "opacity": 1}, "encoding": {"y": {"field": "lo", "type": "quantitative", "scale": {"domain": [-10, 100], "nice": false, "zero": false}, "axis": null}, "color": {"field": "geno", "type": "nominal"}}},
        {"mark": {"type": "tick", "orient": "horizontal", "size": 6, "thickness": 1.5, "opacity": 1}, "encoding": {"y": {"field": "hi", "type": "quantitative", "scale": {"domain": [-10, 100], "nice": false, "zero": false}, "axis": null}, "color": {"field": "geno", "type": "nominal"}}},
        {"transform": [{"filter": "indexof(datum.geno, '>') >= 0"}], "mark": {"type": "point", "shape": "square", "filled": true, "size": 36, "opacity": 1}, "encoding": {
          "x": {"field": "tube", "type": "quantitative", "scale": {"domain": [0.47, 6.22], "nice": false, "zero": false}, "axis": {"orient": "top", "title": "18°C", "titleAnchor": "start", "titleAlign": "left", "titleFontSize": 14, "titlePadding": 6, "domain": false, "ticks": false, "labels": false}},
          "y": {"field": "mean", "type": "quantitative", "scale": {"domain": [-10, 100], "nice": false, "zero": false}, "axis": null},
          "color": {"field": "geno", "type": "nominal"}}},
        {"transform": [{"filter": "indexof(datum.geno, 'Gal4') >= 0"}], "mark": {"type": "point", "shape": "circle", "filled": true, "size": 36, "opacity": 1}, "encoding": {
          "y": {"field": "mean", "type": "quantitative", "scale": {"domain": [-10, 100], "nice": false, "zero": false}, "axis": null},
          "color": {"field": "geno", "type": "nominal"}}},
        {"transform": [{"filter": "indexof(datum.geno, 'UAS') >= 0"}], "mark": {"type": "point", "shape": "triangle-up", "filled": true, "size": 40, "opacity": 1}, "encoding": {
          "y": {"field": "mean", "type": "quantitative", "scale": {"domain": [-10, 100], "nice": false, "zero": false}, "axis": null},
          "color": {"field": "geno", "type": "nominal"}}},
        {"mark": {"type": "point", "filled": true, "size": 144, "strokeWidth": 2, "opacity": 0}, "encoding": {
          "y": {"field": "mean", "type": "quantitative", "scale": {"domain": [-10, 100], "nice": false, "zero": false}, "axis": null},
          "color": {"field": "geno", "type": "nominal",
            "legend": {"orient": "none", "legendX": -42, "legendY": -80, "title": ["D", " "], "titleOrient": "left", "titleAnchor": "start", "titleBaseline": "middle", "titleLineHeight": 20, "titleFontSize": 22, "titleFontWeight": "bold", "titlePadding": 58, "symbolSize": 144, "symbolStrokeWidth": 2, "symbolOpacity": 1, "labelFontSize": 13, "labelFontWeight": "bold", "labelOffset": 9, "rowPadding": -2, "padding": 0}},
          "shape": {"field": "geno", "type": "nominal", "scale": {"domain": ["D42 > dTRPA1-mCherry", "D42-Gal4", "UAS:dTRPA1-mCherry"], "range": ["M-2.1,0H2.1M-0.5,-0.5H0.5V0.5H-0.5Z", "M-2.1,0H2.1M0.55,0A0.55,0.55,0,1,1,-0.55,0A0.55,0.55,0,1,1,0.55,0Z", "M-2.1,0H2.1M0,-0.62L0.62,0.45H-0.62Z"]}}}}
      ]
     },
     {
      "width": 120, "height": 142,
      "data": {"name": "lines"},
      "transform": [{"filter": "datum.panel === 'D' && datum.temp === '32°C'"}],
      "resolve": {"axis": {"x": "independent", "y": "independent"}},
      "encoding": {
        "x": {"field": "tube", "type": "quantitative", "scale": {"domain": [0.47, 6.22], "nice": false, "zero": false}, "axis": null}
      },
      "layer": [
        {"mark": {"type": "line", "strokeWidth": 2}, "encoding": {
          "x": {"field": "tube", "type": "quantitative", "scale": {"domain": [0.47, 6.22], "nice": false, "zero": false}, "axis": {"values": [1, 2, 3, 4, 5, 6], "title": "Tube number", "titleFontSize": 14, "titlePadding": 2, "labelFontSize": 13}},
          "y": {"field": "mean", "type": "quantitative", "scale": {"domain": [-10, 100], "nice": false, "zero": false}, "axis": {"values": [0, 20, 40, 60, 80, 100], "title": null, "labelFontSize": 12}},
          "color": {"field": "geno", "type": "nominal", "scale": {"domain": ["D42 > dTRPA1-mCherry", "D42-Gal4", "UAS:dTRPA1-mCherry"], "range": ["#e8242b", "#2c2f8e", "#1e8a62"]}, "legend": null}}},
        {"mark": {"type": "rule", "strokeWidth": 1.5}, "encoding": {"y": {"field": "lo", "type": "quantitative", "scale": {"domain": [-10, 100], "nice": false, "zero": false}, "axis": null}, "y2": {"field": "hi"}, "color": {"field": "geno", "type": "nominal", "legend": null}}},
        {"mark": {"type": "tick", "orient": "horizontal", "size": 6, "thickness": 1.5, "opacity": 1}, "encoding": {"y": {"field": "lo", "type": "quantitative", "scale": {"domain": [-10, 100], "nice": false, "zero": false}, "axis": null}, "color": {"field": "geno", "type": "nominal", "legend": null}}},
        {"mark": {"type": "tick", "orient": "horizontal", "size": 6, "thickness": 1.5, "opacity": 1}, "encoding": {"y": {"field": "hi", "type": "quantitative", "scale": {"domain": [-10, 100], "nice": false, "zero": false}, "axis": null}, "color": {"field": "geno", "type": "nominal", "legend": null}}},
        {"transform": [{"filter": "indexof(datum.geno, '>') >= 0"}], "mark": {"type": "point", "shape": "square", "filled": true, "size": 36, "opacity": 1}, "encoding": {
          "x": {"field": "tube", "type": "quantitative", "scale": {"domain": [0.47, 6.22], "nice": false, "zero": false}, "axis": {"orient": "top", "title": "32°C", "titleAnchor": "start", "titleAlign": "left", "titleFontSize": 14, "titlePadding": 6, "domain": false, "ticks": false, "labels": false}},
          "y": {"field": "mean", "type": "quantitative", "scale": {"domain": [-10, 100], "nice": false, "zero": false}, "axis": null},
          "color": {"field": "geno", "type": "nominal", "legend": null}}},
        {"transform": [{"filter": "indexof(datum.geno, 'Gal4') >= 0"}], "mark": {"type": "point", "shape": "circle", "filled": true, "size": 36, "opacity": 1}, "encoding": {
          "y": {"field": "mean", "type": "quantitative", "scale": {"domain": [-10, 100], "nice": false, "zero": false}, "axis": null},
          "color": {"field": "geno", "type": "nominal", "legend": null}}},
        {"transform": [{"filter": "indexof(datum.geno, 'UAS') >= 0"}], "mark": {"type": "point", "shape": "triangle-up", "filled": true, "size": 40, "opacity": 1}, "encoding": {
          "y": {"field": "mean", "type": "quantitative", "scale": {"domain": [-10, 100], "nice": false, "zero": false}, "axis": null},
          "color": {"field": "geno", "type": "nominal", "legend": null}}}
      ]
     }
    ]
   }
  ]
 }
]
}
